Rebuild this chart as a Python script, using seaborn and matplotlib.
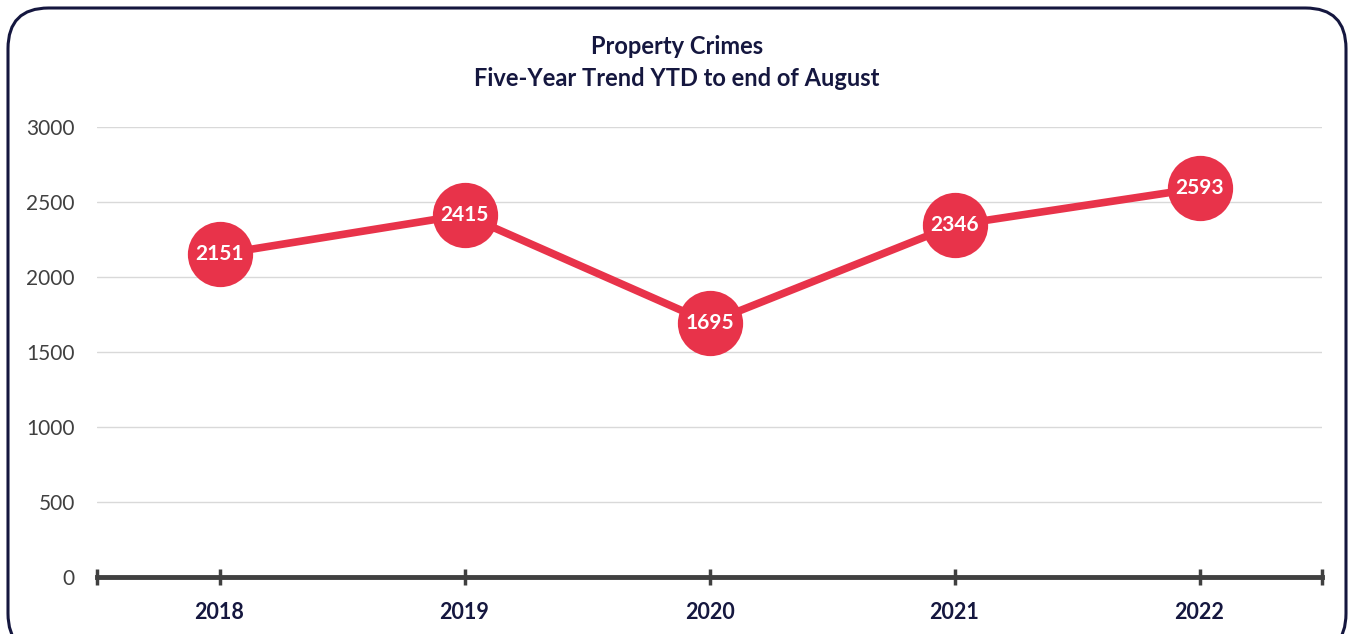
import matplotlib
matplotlib.use("Agg")
import matplotlib.pyplot as plt
from matplotlib.patches import FancyBboxPatch
import seaborn as sns
import pandas as pd

years = ["2018", "2019", "2020", "2021", "2022"]
crimes = [2151, 2415, 1695, 2346, 2593]
y_ticks = [0, 500, 1000, 1500, 2000, 2500, 3000]

RED = "#E8334A"
NAVY = "#15173F"

sns.set_theme(style="white")
plt.rcParams["font.family"] = ["Lato", "DejaVu Sans"]

df = pd.DataFrame({"pos": range(len(years)), "crimes": crimes})

fig = plt.figure(figsize=(13.54, 6.34), dpi=100)
ax = fig.add_axes([97 / 1354, 57 / 634, 1225 / 1354, 450 / 634])

# rounded frame around the chart
frame = FancyBboxPatch((8 / 1354, -20 / 634), 1338 / 1354, 646 / 634,
                       boxstyle="round,pad=0,rounding_size=0.03",
                       transform=fig.transFigure, fill=False,
                       edgecolor=NAVY, linewidth=2.2, mutation_aspect=1354 / 634)
fig.patches.append(frame)

sns.lineplot(data=df, x="pos", y="crimes", ax=ax, color=RED, linewidth=5.5,
             marker="o", markersize=47, markeredgewidth=0, zorder=3)

for x, v in zip(df["pos"], crimes):
    ax.text(x, v, str(v), ha="center", va="center", color="white",
            fontsize=15, fontweight="bold", zorder=4)

ax.set_xlim(-0.5, len(years) - 0.5)
ax.set_ylim(0, 3000)
ax.set_yticks(y_ticks)
ax.set_yticklabels([str(t) for t in y_ticks], fontsize=15, color="#404040")
ax.yaxis.grid(True, color="#D9D9D9", linewidth=1)
ax.set_axisbelow(True)

ax.set_xticks(list(range(len(years))))
ax.set_xticklabels(years, fontsize=15.5, fontweight="bold", color=NAVY)
ax.set_xticks([-0.5, len(years) - 0.5], minor=True)
ax.tick_params(axis="x", which="both", bottom=True, direction="inout", length=12,
               width=2.5, color="#404040", pad=12)
ax.tick_params(axis="y", length=0, pad=16)
ax.set_xlabel("")
ax.set_ylabel("")

for s in ["top", "right", "left"]:
    ax.spines[s].set_visible(False)
ax.spines["bottom"].set_color("#404040")
ax.spines["bottom"].set_linewidth(3.5)
ax.spines["bottom"].set_zorder(5)

fig.text(0.5, 1 - 46 / 634, "Property Crimes", ha="center", va="center",
         fontsize=17, fontweight="bold", color=NAVY)
fig.text(0.5, 1 - 78 / 634, "Five-Year Trend YTD to end of August", ha="center",
         va="center", fontsize=17, fontweight="bold", color=NAVY)

fig.savefig("out.png", dpi=100, facecolor="white")
